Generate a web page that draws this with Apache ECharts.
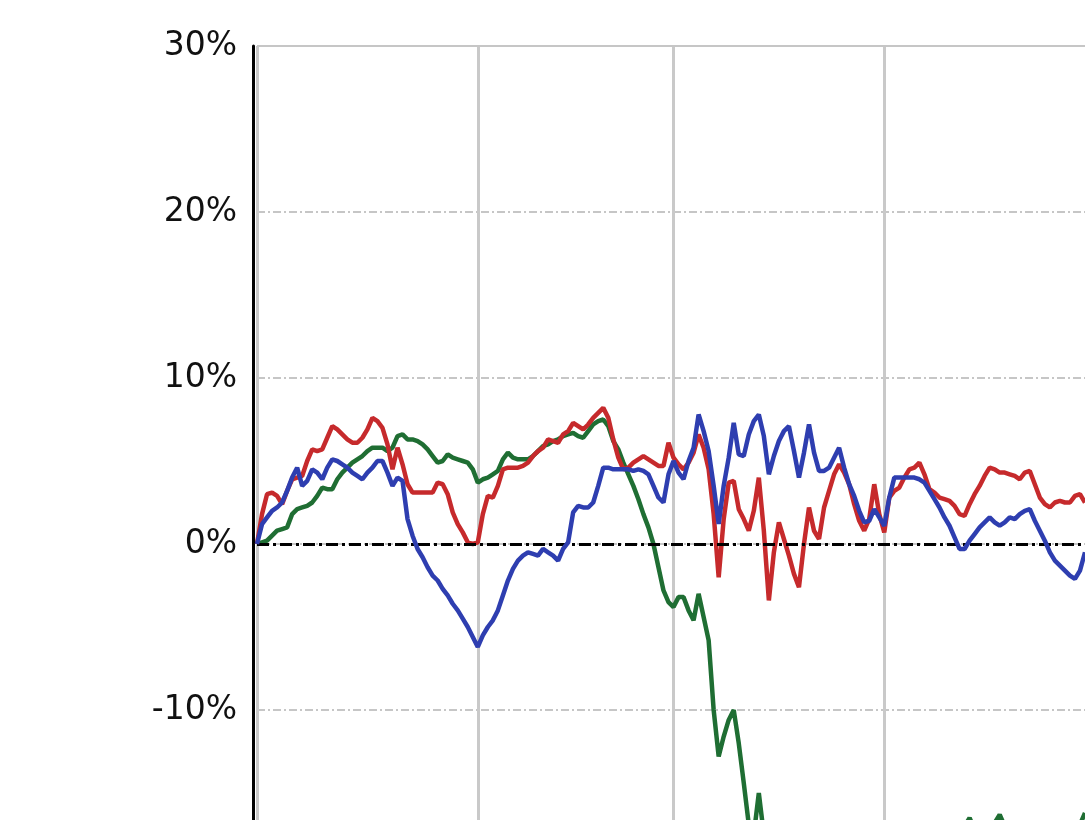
<!DOCTYPE html>
<html>
<head>
<meta charset="utf-8">
<script src="https://cdn.jsdelivr.net/npm/echarts@6/dist/echarts.min.js"></script>
<style>html,body{margin:0;padding:0;background:#fff;}#c{width:1085px;height:820px;}</style>
</head>
<body>
<div id="c"></div>
<script>
// Daily observation index (x axis categories)
const categories = Array.from({length: 166}, (_, i) => String(i));

const redSeries = [
  0,1.8,3.0,3.1,2.9,2.4,3.2,3.9,4.0,4.1,
  5.0,5.7,5.6,5.7,6.4,7.1,6.9,6.6,6.3,6.1,
  6.1,6.4,6.9,7.6,7.4,7.0,6.0,4.5,5.8,4.8,
  3.6,3.1,3.1,3.1,3.1,3.1,3.7,3.6,3.0,1.9,
  1.2,0.7,0.1,0.0,0.1,1.8,2.9,2.8,3.5,4.5,
  4.6,4.6,4.6,4.7,4.9,5.3,5.6,5.8,6.3,6.2,
  6.1,6.6,6.8,7.3,7.1,6.9,7.2,7.6,7.9,8.2,
  7.6,6.3,5.2,4.5,4.6,4.9,5.1,5.3,5.1,4.9,
  4.7,4.7,6.1,5.2,4.8,4.5,4.9,5.5,6.6,5.8,
  4.5,1.8,-2.0,1.5,3.7,3.8,2.1,1.5,0.8,2.0,
  4.0,0.8,-3.4,-0.5,1.3,0.3,-0.7,-1.8,-2.6,0.0,
  2.2,0.8,0.3,2.2,3.2,4.2,4.8,4.3,3.6,2.4,
  1.4,0.8,1.5,3.6,1.8,0.7,2.8,3.2,3.4,4.0,
  4.5,4.6,4.9,4.2,3.3,3.1,2.8,2.7,2.6,2.3,
  1.8,1.7,2.4,3.0,3.5,4.1,4.6,4.5,4.3,4.3,
  4.2,4.1,3.9,4.3,4.4,3.6,2.8,2.4,2.2,2.5,
  2.6,2.5,2.5,2.9,3.0,2.5
];

const blueSeries = [
  0,1.2,1.6,2.0,2.2,2.5,3.2,4.0,4.6,3.5,
  3.8,4.5,4.3,3.9,4.6,5.1,5.0,4.8,4.6,4.3,
  4.1,3.9,4.3,4.6,5.0,5.0,4.3,3.5,4.0,3.8,
  1.5,0.5,-0.3,-0.8,-1.4,-1.9,-2.2,-2.7,-3.1,-3.6,
  -4.0,-4.5,-5.0,-5.6,-6.2,-5.5,-5.0,-4.6,-4.0,-3.1,
  -2.2,-1.5,-1.0,-0.7,-0.5,-0.6,-0.7,-0.3,-0.5,-0.7,
  -1.0,-0.3,0.1,1.9,2.3,2.2,2.2,2.5,3.5,4.6,
  4.6,4.5,4.5,4.5,4.5,4.4,4.5,4.4,4.2,3.5,
  2.8,2.5,4.2,5.0,4.3,3.9,5.0,5.8,7.8,6.8,
  5.6,3.5,1.2,3.5,5.2,7.3,5.4,5.3,6.6,7.4,
  7.8,6.5,4.2,5.3,6.2,6.8,7.1,5.6,4.0,5.5,
  7.2,5.5,4.4,4.4,4.6,5.2,5.8,4.6,3.6,2.9,
  2.0,1.3,1.4,2.1,1.6,1.1,2.8,4.0,4.0,4.0,
  4.0,4.0,3.9,3.7,3.2,2.7,2.2,1.6,1.1,0.4,
  -0.3,-0.3,0.2,0.6,1.0,1.3,1.6,1.3,1.1,1.3,
  1.6,1.5,1.8,2.0,2.1,1.4,0.8,0.2,-0.5,-1.0,
  -1.3,-1.6,-1.9,-2.1,-1.6,-0.5
];

const greenSeries = [
  0,0.1,0.2,0.5,0.8,0.9,1.0,1.8,2.1,2.2,
  2.3,2.5,2.9,3.4,3.3,3.3,3.9,4.3,4.6,4.9,
  5.1,5.3,5.6,5.8,5.8,5.8,5.6,5.8,6.5,6.6,
  6.3,6.3,6.2,6.0,5.7,5.3,4.9,5.0,5.4,5.2,
  5.1,5.0,4.9,4.5,3.7,3.9,4.0,4.2,4.4,5.1,
  5.5,5.2,5.1,5.1,5.1,5.3,5.6,5.9,6.0,6.2,
  6.3,6.5,6.6,6.7,6.5,6.4,6.8,7.2,7.4,7.5,
  7.1,6.2,5.7,4.9,4.2,3.5,2.7,1.8,1.0,0.0,
  -1.4,-2.8,-3.5,-3.8,-3.2,-3.2,-4.0,-4.6,-3.0,-4.4,
  -5.8,-10.0,-12.8,-11.6,-10.6,-10.0,-12.0,-14.4,-16.9,-17.5,
  -15.0,-17.5,-19.0,-20.5,-21.5,-22.0,-22.8,-23.2,-22.5,-23.5,
  -24.0,-23.2,-22.8,-23.5,-22.6,-21.8,-22.4,-21.6,-20.8,-21.2,
  -20.5,-19.8,-20.4,-19.6,-19.2,-19.8,-19.0,-18.6,-19.2,-18.5,
  -18.0,-18.6,-17.9,-18.4,-17.8,-18.3,-17.6,-18.1,-17.5,-17.2,
  -17.6,-17.0,-16.5,-17.2,-17.8,-17.4,-17.0,-16.8,-16.3,-17.0,
  -17.6,-18.0,-17.5,-17.8,-18.2,-17.6,-17.9,-18.3,-17.7,-17.3,
  -17.8,-17.5,-17.1,-17.4,-16.9,-16.2
];

// y axis tick values (percent)
const yTicks = [-20, -10, 0, 10, 20, 30];
// indices where vertical gridlines are drawn
const verticalGridIdx = [0, 44, 83, 125];

const chart = echarts.init(document.getElementById('c'), null, {renderer: 'canvas'});
chart.setOption({
  backgroundColor: '#ffffff',
  animation: false,
  grid: { left: 257, top: 46, width: 828, height: 830, containLabel: false, outerBoundsMode: 'none' },
  xAxis: {
    type: 'category',
    data: categories,
    boundaryGap: false,
    axisLine: { show: false },
    axisTick: { show: false },
    axisLabel: { show: false },
    splitLine: {
      show: true,
      interval: (idx) => verticalGridIdx.includes(idx),
      lineStyle: { color: '#c9c9c9', width: 3, type: 'solid' }
    }
  },
  yAxis: {
    type: 'value',
    min: yTicks[0],
    max: yTicks[yTicks.length - 1],
    interval: 10,
    offset: 4,
    axisLine: { show: true, onZero: false, lineStyle: { color: '#000', width: 3 } },
    axisTick: { show: false },
    axisLabel: {
      margin: 16,
      formatter: (v) => v + '%',
      color: '#111',
      fontFamily: 'DejaVu Sans',
      fontSize: 33
    },
    splitLine: {
      show: true,
      lineStyle: { color: '#c6c6c6', width: 2, type: [8, 3, 2, 3] }
    }
  },
  series: [
    {
      name: 'green', type: 'line', data: greenSeries, showSymbol: false, symbol: 'none',
      lineStyle: { color: '#1f6e33', width: 4.5 }, z: 3
    },
    {
      name: 'red', type: 'line', data: redSeries, showSymbol: false, symbol: 'none',
      lineStyle: { color: '#c62a2c', width: 4.5 }, z: 4
    },
    {
      name: 'blue', type: 'line', data: blueSeries, showSymbol: false, symbol: 'none',
      lineStyle: { color: '#2e3eb0', width: 4.5 }, z: 5,
      markLine: {
        silent: true, symbol: 'none', label: { show: false },
        data: [
          { yAxis: 0, lineStyle: { color: '#000', width: 3, type: [12, 4, 3, 4] } },
          { yAxis: 30, lineStyle: { color: '#c6c6c6', width: 2, type: 'solid' } }
        ]
      }
    }
  ]
});
</script>
</body>
</html>
